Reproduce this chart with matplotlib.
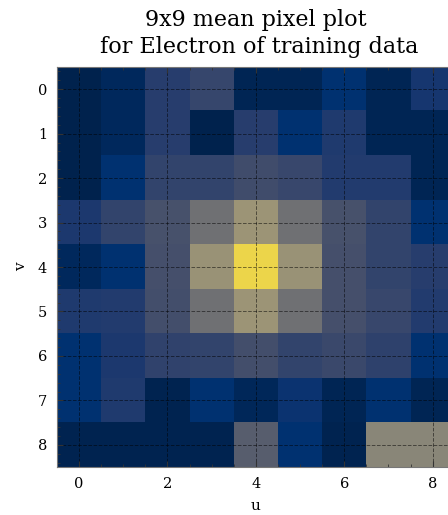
import numpy as np
import matplotlib.pyplot as plt
from matplotlib.ticker import MultipleLocator

# mean pixel intensity per cell (rows = v, columns = u)
row_0 = [0.00, 0.04, 0.17, 0.22, 0.02, 0.02, 0.10, 0.02, 0.13]
row_1 = [0.00, 0.04, 0.17, 0.00, 0.17, 0.10, 0.15, 0.02, 0.02]
row_2 = [0.00, 0.10, 0.21, 0.21, 0.26, 0.23, 0.16, 0.16, 0.02]
row_3 = [0.14, 0.21, 0.29, 0.48, 0.68, 0.48, 0.29, 0.21, 0.10]
row_4 = [0.04, 0.10, 0.28, 0.67, 1.00, 0.67, 0.28, 0.21, 0.17]
row_5 = [0.15, 0.16, 0.27, 0.48, 0.68, 0.48, 0.28, 0.23, 0.16]
row_6 = [0.10, 0.14, 0.20, 0.21, 0.27, 0.21, 0.24, 0.19, 0.10]
row_7 = [0.10, 0.15, 0.01, 0.10, 0.03, 0.11, 0.02, 0.10, 0.02]
row_8 = [0.01, 0.01, 0.01, 0.01, 0.36, 0.10, 0.01, 0.60, 0.60]

particle = "Electron"

def main():
	plt.rcParams['font.family'] = 'DejaVu Serif'
	img = np.array([row_0, row_1, row_2, row_3, row_4, row_5, row_6, row_7, row_8])

	fig = plt.figure(figsize=(4.48, 5.15), dpi=100)
	ax = fig.add_axes([0.127, 0.093, 0.888, 0.777])
	ax.imshow(img, cmap='cividis', aspect='auto', vmin=0, vmax=1.08)

	ax.set_title("9x9 mean pixel plot\n for " + particle + " of training data",
		fontsize=16, pad=10, linespacing=1.3)
	ax.set_xlabel("u", fontsize=11, labelpad=6)
	ax.set_ylabel("v", fontsize=11, labelpad=7)

	ax.xaxis.set_major_locator(MultipleLocator(2))
	ax.xaxis.set_minor_locator(MultipleLocator(0.5))
	ax.yaxis.set_major_locator(MultipleLocator(1))
	ax.yaxis.set_minor_locator(MultipleLocator(0.2))
	ax.tick_params(which='both', direction='in', top=True, right=True, labelsize=10.5, color='#333333')
	ax.tick_params(which='major', length=4, pad=7)
	ax.tick_params(which='minor', length=2)
	for s in ax.spines.values():
		s.set_color('#777777')

	ax.grid(True, which='major', color='black', linestyle='--', linewidth=0.7, alpha=0.5)

	fig.savefig("out.png", dpi=100)

if __name__ == '__main__':
	main()
